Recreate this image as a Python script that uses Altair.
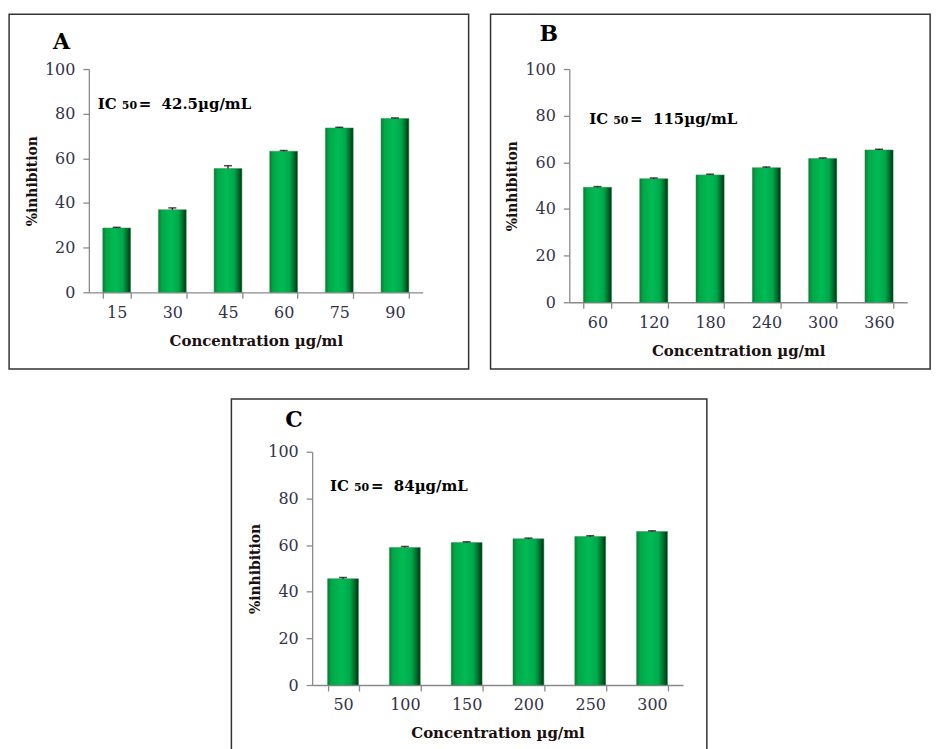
import altair as alt
import pandas as pd

# ---------------- data ----------------
A_conc = ["15", "30", "45", "60", "75", "90"]
A_val = [28.8, 37.0, 55.4, 63.2, 73.6, 77.8]
A_err = [0.3, 0.8, 1.3, 0.3, 0.3, 0.3]
A_ic50 = "42.5µg/mL"

B_conc = ["60", "120", "180", "240", "300", "360"]
B_val = [49.3, 53.0, 54.6, 57.7, 61.6, 65.3]
B_err = [0.3, 0.3, 0.3, 0.3, 0.3, 0.3]
B_ic50 = "115µg/mL"

C_conc = ["50", "100", "150", "200", "250", "300"]
C_val = [45.6, 59.0, 61.1, 62.7, 63.7, 65.8]
C_err = [0.5, 0.4, 0.3, 0.3, 0.3, 0.3]
C_ic50 = "84µg/mL"

Y_TICKS = [0, 20, 40, 60, 80, 100]
SERIF = "DejaVu Serif"
NBSP = "\u00a0"

bar_fill = alt.Gradient(
    gradient="linear",
    x1=0, x2=1, y1=0, y2=0,
    stops=[
        alt.GradientStop(offset=0.0, color="#0a7a36"),
        alt.GradientStop(offset=0.12, color="#00a847"),
        alt.GradientStop(offset=0.45, color="#00bb55"),
        alt.GradientStop(offset=0.72, color="#00a84a"),
        alt.GradientStop(offset=0.88, color="#006a2a"),
        alt.GradientStop(offset=1.0, color="#003214"),
    ],
)


def panel(letter, conc, vals, errs, ic50, w, h, box, letter_pos, ic_pos):
    df = pd.DataFrame({"conc": conc, "val": vals, "err": errs})
    df["hi"] = df["val"] + df["err"]
    one = pd.DataFrame({"a": [0]})

    xenc = alt.X(
        "conc:N", sort=conc, title="Concentration µg/ml",
        scale=alt.Scale(paddingInner=0.5, paddingOuter=0.25),
        axis=alt.Axis(labelAngle=0, tickBand="extent", labelPadding=6,
                      titlePadding=13, titleFontSize=15),
    )
    yenc = alt.Y(
        "val:Q", title="%inhibition",
        scale=alt.Scale(domain=[0, 100], nice=False),
        axis=alt.Axis(values=Y_TICKS, labelPadding=8, titlePadding=5,
                      titleFontSize=14),
    )

    bars = alt.Chart(df).mark_bar(color=bar_fill, stroke="#2f8f4f",
                                  strokeWidth=0.5).encode(x=xenc, y=yenc)
    stem = alt.Chart(df).mark_rule(color="black", strokeWidth=1.2).encode(
        x=alt.X("conc:N", sort=conc), y="val:Q", y2="hi:Q")
    cap = alt.Chart(df).mark_tick(color="black", thickness=1.5, size=8,
                                  orient="horizontal").encode(
        x=alt.X("conc:N", sort=conc), y="hi:Q")

    bx0, bx1, by0, by1 = box
    border = alt.Chart(one).mark_rect(filled=False, stroke="#333333",
                                      strokeWidth=1.5).encode(
        x=alt.value(bx0), x2=alt.value(w + bx1),
        y=alt.value(by0), y2=alt.value(h + by1))

    lx, ly = letter_pos
    let = alt.Chart(one).mark_text(
        text=letter, font=SERIF, fontWeight="bold", fontSize=22,
        align="left", baseline="alphabetic", color="black").encode(
        x=alt.value(lx), y=alt.value(ly))

    ix, iy = ic_pos
    t1 = alt.Chart(one).mark_text(
        text="IC", font=SERIF, fontWeight="bold", fontSize=15,
        align="left", baseline="alphabetic", color="black").encode(
        x=alt.value(ix), y=alt.value(iy))
    t2 = alt.Chart(one).mark_text(
        text="50", font=SERIF, fontWeight="bold", fontSize=11,
        align="left", baseline="alphabetic", color="black").encode(
        x=alt.value(ix + 24), y=alt.value(iy))
    t3 = alt.Chart(one).mark_text(
        text="=" + NBSP + NBSP + ic50, font=SERIF, fontWeight="bold",
        fontSize=15, align="left", baseline="alphabetic",
        color="black").encode(
        x=alt.value(ix + 41), y=alt.value(iy))

    return alt.layer(border, bars, stem, cap, let, t1, t2, t3).properties(
        width=w, height=h)


pA = panel("A", A_conc, A_val, A_err, A_ic50, 335, 224,
           (-80, 46, -55, 77), (-36, -20), (9, 40))
pB = panel("B", B_conc, B_val, B_err, B_ic50, 339, 234,
           (-79, 23, -55, 67), (-30, -28), (20, 55))
pC = panel("C", C_conc, C_val, C_err, C_ic50, 372, 234,
           (-81, 24, -53, 73), (-27, -25), (18, 39))

top = alt.hconcat(pA, pB, spacing=20)
chart = alt.vconcat(top, pC, spacing=28, center=True).properties(
    padding={"top": 4, "left": 0, "right": 0, "bottom": 0}
).configure_view(stroke=None).configure_axis(
    grid=False,
    labelFont=SERIF, labelFontSize=16, labelColor="#33334a",
    titleFont=SERIF, titleFontWeight="bold",
    titleColor="#1a1010",
    domainColor="#8a8a8a", tickColor="#8a8a8a", tickSize=6,
    domainWidth=1.3, tickWidth=1.3,
)

chart.save("out.html", embed_options={"renderer": "svg", "actions": False})
